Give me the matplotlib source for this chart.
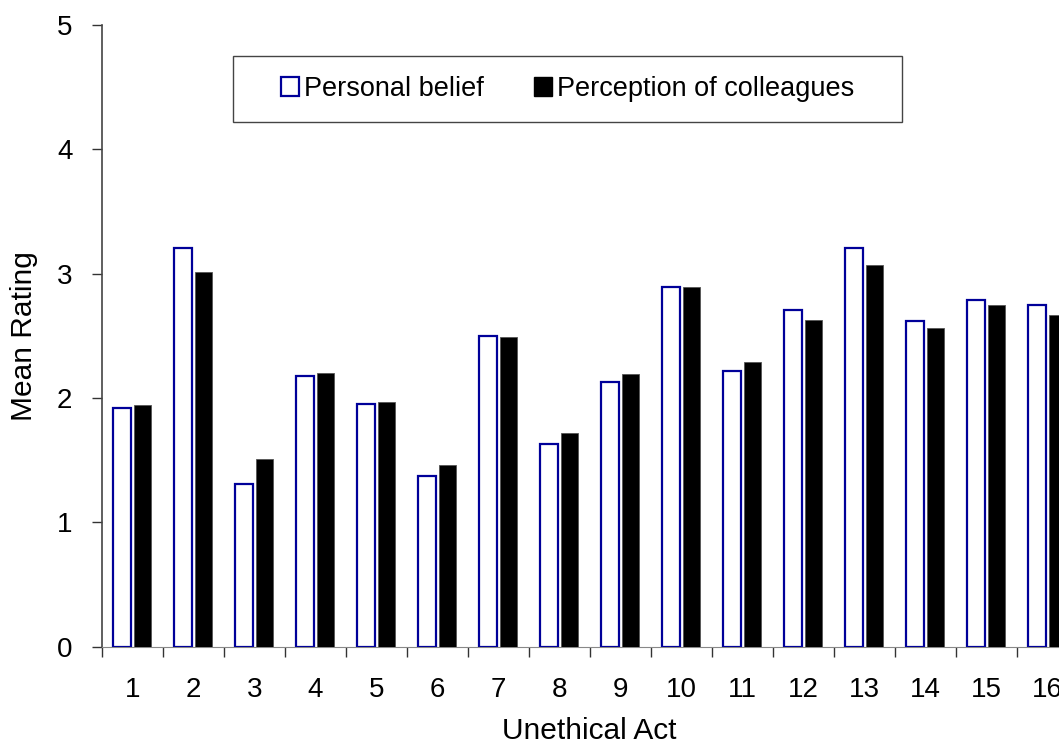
import numpy as np
import matplotlib.pyplot as plt
from matplotlib.patches import Patch, Rectangle

plt.rcParams['font.family'] = ['Liberation Sans', 'DejaVu Sans']

acts = list(range(1, 17))
personal = [1.92, 3.21, 1.31, 2.18, 1.95, 1.37, 2.50, 1.63,
            2.13, 2.89, 2.22, 2.71, 3.21, 2.62, 2.79, 2.75]
colleagues = [1.94, 3.01, 1.51, 2.20, 1.97, 1.46, 2.49, 1.72,
              2.19, 2.89, 2.29, 2.63, 3.07, 2.56, 2.75, 2.67]

fig = plt.figure(figsize=(10.59, 7.45), dpi=100)
ax = fig.add_axes([0.096, 0.1322, 0.9217, 0.8342])

x = np.array(acts)
w = 0.285
ax.bar(x - 0.168, personal, width=w, color="white", edgecolor="#000099", linewidth=1.6,
       label="Personal belief", zorder=3)
ax.bar(x + 0.168, colleagues, width=w, color="black", edgecolor="#555555", linewidth=0.6,
       label="Perception of colleagues", zorder=3)

ax.set_xlim(0.5, 16.5)
ax.set_ylim(0, 5)
ax.set_yticks([0, 1, 2, 3, 4, 5])
ax.set_xticks(np.arange(0.5, 16.5, 1.0))
ax.set_xticklabels([])
ax.set_xticks(x, minor=True)
ax.set_xticklabels([str(a) for a in acts], minor=True)
ax.tick_params(axis="x", which="major", direction="out", length=7, width=1, color="#333333")
ax.tick_params(axis="x", which="minor", length=0, pad=22, labelsize=20)
ax.tick_params(axis="y", direction="out", length=7, width=1, color="#333333", labelsize=20, pad=14)

for s in ["top", "right"]:
    ax.spines[s].set_visible(False)
ax.spines["left"].set_color("#444444")
ax.spines["bottom"].set_color("#888888")
ax.spines["left"].set_linewidth(1.2)

ax.set_xlabel("Unethical Act", fontsize=21.5, labelpad=10)
ax.set_ylabel("Mean Rating", fontsize=21.5, labelpad=14)

# legend frame drawn separately so the padding can match the original
ax.add_patch(Rectangle((0.1345, 0.844), 0.6855, 0.106, transform=ax.transAxes,
                       facecolor="white", edgecolor="#444444", linewidth=1.0,
                       zorder=5, clip_on=False))
handles = [Patch(facecolor="white", edgecolor="#000099", linewidth=1.6),
           Patch(facecolor="black", edgecolor="black")]
leg = ax.legend(handles, ["Personal belief", "Perception of colleagues"], ncol=2,
                loc="center left", bbox_to_anchor=(0.184, 0.897),
                fontsize=19.5, frameon=False, handlelength=0.65, handleheight=0.65,
                handletextpad=0.2, columnspacing=1.85, borderpad=0, borderaxespad=0)
leg.set_zorder(6)

fig.savefig("out.png", dpi=100)
